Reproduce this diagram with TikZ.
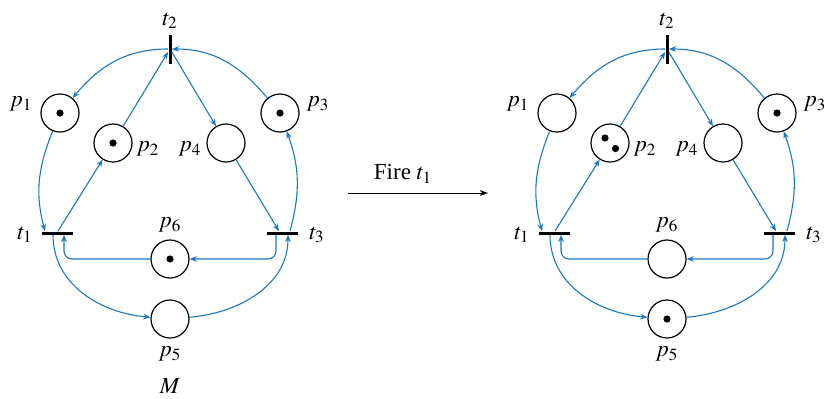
\documentclass[tikz,border=0pt]{standalone}
\usepackage{mathptmx}
\usepackage[no-math]{fontspec}
\setmainfont{Liberation Serif}
\usepackage{xcolor}
\usepackage{tikz}
\usetikzlibrary{arrows.meta, calc}
\definecolor{netBlue}{HTML}{1A78C2}
\definecolor{ink}{HTML}{000000}

\begin{document}
\begin{tikzpicture}[
  x=0.5pt, y=0.5pt,
  every node/.style={font=\fontsize{11.5}{13}\selectfont, color=ink},
  place/.style={circle, draw=ink, line width=0.6pt, minimum size=19pt, inner sep=0pt},
  token/.style={circle, fill=ink, minimum size=3.6pt, inner sep=0pt},
  transH/.style={rectangle, fill=ink, minimum width=15.5pt, minimum height=1.5pt, inner sep=0pt},
  transV/.style={rectangle, fill=ink, minimum width=1.5pt, minimum height=14.5pt, inner sep=0pt},
  flowArr/.style={-{Stealth[length=3.6pt, width=2.8pt]}, draw=netBlue, line width=0.55pt},
  fireArr/.style={-{Stealth[length=4.2pt, width=3pt]}, draw=ink, line width=0.5pt},
  netLabel/.style={inner sep=0pt, anchor=center}
]
\useasboundingbox (0,0) rectangle (825,-398);

% --- The two markings: same net, shifted ---
\foreach \s/\dx in {L/0, R/497} {
  \begin{scope}[shift={(\dx,0)}]
    % places and transitions
    \node[place] (p1\s) at (60,-113) {};
    \node[place] (p2\s) at (113,-143) {};
    \node[place] (p3\s) at (280,-113) {};
    \node[place] (p4\s) at (226,-143) {};
    \node[place] (p5\s) at (170,-319) {};
    \node[place] (p6\s) at (170,-259) {};
    \node[transH] (t1\s) at (57,-233) {};
    \node[transV] (t2\s) at (170,-49) {};
    \node[transH] (t3\s) at (282,-233) {};

    % labels
    \node[netLabel] (lp1\s) at (21,-104) {$p_1$};
    \node[netLabel] (lp2\s) at (148,-149) {$p_2$};
    \node[netLabel] (lp3\s) at (318,-104) {$p_3$};
    \node[netLabel] (lp4\s) at (190,-149) {$p_4$};
    \node[netLabel] (lp5\s) at (170,-354) {$p_5$};
    \node[netLabel] (lp6\s) at (170,-225) {$p_6$};
    \node[netLabel] (lt1\s) at (25,-235) {$t_1$};
    \node[netLabel] (lt2\s) at (170,-21) {$t_2$};
    \node[netLabel] (lt3\s) at (317,-235) {$t_3$};

    % arcs
    \draw[flowArr] (t2\s.west) to[out=180, in=50] (p1\s);
    \draw[flowArr] (p3\s) to[out=130, in=0] (t2\s.east);
    \draw[flowArr] (p1\s) to[out=-112, in=105] ([xshift=-6pt]t1\s.north);
    \draw[flowArr] ([xshift=0.5pt]t1\s.north) -- (p2\s);
    \draw[flowArr] (p2\s) -- ([yshift=-1.5pt]t2\s.west);
    \draw[flowArr] ([yshift=-1.5pt]t2\s.east) -- (p4\s);
    \draw[flowArr] (p4\s) -- ([xshift=-1.5pt]t3\s.north);
    \draw[flowArr] ([xshift=4pt]t3\s.north) to[out=75, in=-70] (p3\s);
    \draw[flowArr, rounded corners=4pt] ([xshift=-3pt]t3\s.south) |- (p6\s);
    \draw[flowArr, rounded corners=4pt] (p6\s) -| ([xshift=3.5pt]t1\s.south);
    \draw[flowArr] ([xshift=-2pt]t1\s.south) to[out=-90, in=175] (p5\s);
    \draw[flowArr] (p5\s) to[out=5, in=-90] ([xshift=3pt]t3\s.south);
  \end{scope}
}

% --- Tokens of M (left) ---
\node[token] (k1L) at (p1L) {};
\node[token] (k2L) at (p2L) {};
\node[token] (k3L) at (p3L) {};
\node[token] (k6L) at (p6L) {};

% --- Tokens after firing (right) ---
\node[token] (k2aR) at ($(p2R)+(-5,5)$) {};
\node[token] (k2bR) at ($(p2R)+(5.5,-5.5)$) {};
\node[token] (k3R) at (p3R) {};
\node[token] (k5R) at (p5R) {};

% --- Marking name and firing step ---
\node[netLabel] (mname) at (170,-386) {$M$};
\coordinate (fireS) at (348,-193);
\coordinate (fireE) at (488,-193);
\draw[fireArr] (fireS) -- (fireE);
\node[netLabel] (fireLbl) at (403,-174) {Fire $t_1$};

\end{tikzpicture}
\end{document}
